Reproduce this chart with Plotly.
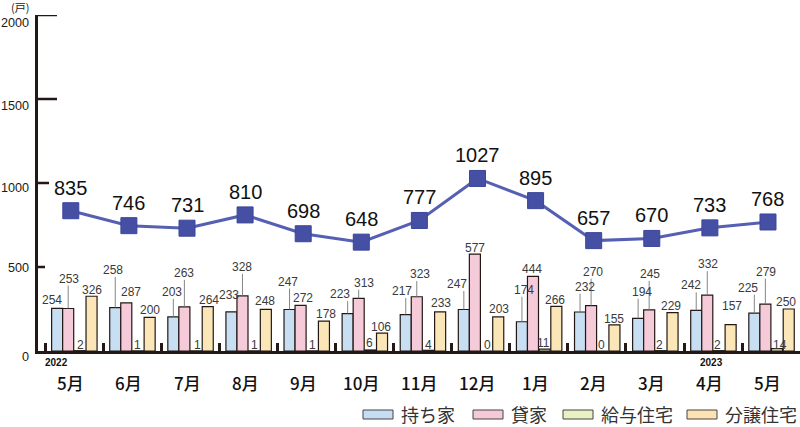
import plotly.graph_objects as go

# ---------------- data ----------------
months = ["5月", "6月", "7月", "8月", "9月", "10月", "11月", "12月", "1月", "2月", "3月", "4月", "5月"]
owned = [254, 258, 203, 233, 247, 223, 217, 247, 174, 232, 194, 242, 225]      # 持ち家
rented = [253, 287, 263, 328, 272, 313, 323, 577, 444, 270, 245, 332, 279]     # 貸家
issued = [2, 1, 1, 1, 1, 6, 4, 0, 11, 0, 2, 2, 14]                             # 給与住宅
sold = [326, 200, 264, 248, 178, 106, 233, 203, 266, 155, 229, 157, 250]       # 分譲住宅
totals = [835, 746, 731, 810, 698, 648, 777, 1027, 895, 657, 670, 733, 768]
series_names = ["持ち家", "貸家", "給与住宅", "分譲住宅"]
year_labels = ["2022", "2023"]
y_ticks = [0, 500, 1000, 1500, 2000]

# ---------------- style ----------------
W, H = 800, 427
ML, MR, MT, MB = 38, 0, 15, 76
XMIN, XMAX = -0.5645, 12.551
DARK = "#231815"
bar_fill = ["#c8def3", "#f6cbd9", "#eef3c8", "#fbe6b8"]
legend_fill = ["#c5dcf2", "#f5c9d7", "#e8f1c4", "#fde2b3"]
bar_left = [-0.33, -0.14, 0.06, 0.262]
bar_w = 0.19
NUM = "Liberation Sans"
JP = "Noto Sans CJK JP"
ytick_label_shift = [-6, -1, -5, -6.5, -7.5]
ytick_len = [7, 11, 19, 19]

# label placement per series: (dx px, dy px up, leader line?)
label_pos = [
    [(-5, 8, 0), (-2, 37.7, 1), (-1, 25, 1), (-2, 17, 0), (-2, 28, 1), (-7.7, 19.5, 1), (-4, 23.5, 1),
     (-6.4, 25.5, 1), (2, 32, 1), (5, 25.3, 1), (4, 26.7, 1), (-5, 25, 1), (-6, 25.5, 1)],
    [(1, 30, 1), (5, 11, 0), (0, 34, 1), (0, 29, 1), (2, 7.5, 0), (5, 15.7, 1), (3, 22.7, 1),
     (0, 6, 0), (-1, 7.5, 0), (2, 34, 1), (1, 36, 1), (1, 31, 1), (0.5, 32.5, 1)],
    [(1, 6, 0), (0, 6, 0), (1, 6, 0), (0, 6, 0), (0, 6, 0), (-1, 7, 0), (0, 5.5, 0),
     (0.5, 6, 0), (-1.5, 6, 0), (-1, 6, 0), (-1, 6, 0), (-1, 6, 0), (3, 3.6, 0)],
    [(0, 6.5, 0), (0.4, 7.4, 0), (0.8, 6.6, 0), (-0.8, 8.3, 0), (1.6, 7.1, 0), (-1, 6.5, 0), (0.9, 9.2, 0),
     (0.8, 7.9, 0), (-1.3, 6.3, 0), (-0.4, 6, 0), (-1.5, 6.5, 0), (1.4, 18.6, 0), (-3, 7.3, 0)],
]

pw, ph = W - ML - MR, H - MT - MB


def px_x(px):
    return (px - ML) / pw


def px_y(py):
    return (H - MB - py) / ph


fig = go.Figure()
xs = list(range(len(months)))
all_series = [owned, rented, issued, sold]

for k, vals in enumerate(all_series):
    fig.add_trace(go.Bar(
        x=xs, y=vals, offset=bar_left[k], width=bar_w, name=series_names[k],
        marker=dict(color=bar_fill[k], line=dict(color=DARK, width=1.2)),
        showlegend=False, hoverinfo="y",
    ))

fig.add_trace(go.Scatter(
    x=xs, y=totals, mode="lines+markers", showlegend=False,
    line=dict(color="#5560b2", width=3),
    marker=dict(symbol="square", size=16, color="#4550a4", line=dict(color="#3c4699", width=1)),
))

annotations = []
shapes = []

# bar value labels + leader lines
for k, vals in enumerate(all_series):
    cx_off = bar_left[k] + bar_w / 2
    for i, v in enumerate(vals):
        dx, dy, lead = label_pos[k][i]
        annotations.append(dict(
            x=i + cx_off, y=v, xref="x", yref="y", text=str(v), showarrow=False,
            xshift=dx, yshift=dy, xanchor="center", yanchor="middle",
            font=dict(family=NUM, size=12, color="#3a3a3a"),
        ))
        if lead:
            shapes.append(dict(
                type="line", xref="x", yref="y", x0=i + cx_off, x1=i + cx_off,
                ysizemode="pixel", yanchor=v, y0=0, y1=dy - 7,
                line=dict(color="#777777", width=0.9), layer="above",
            ))

# total labels
for i, t in enumerate(totals):
    annotations.append(dict(
        x=i, y=t, xref="x", yref="y", text=str(t), showarrow=False, yshift=23,
        xanchor="center", yanchor="middle", font=dict(family=NUM, size=20, color="#111111"),
    ))

# month labels
for i, m in enumerate(months):
    annotations.append(dict(
        x=i, y=0, xref="x", yref="y", text=m, showarrow=False, yshift=-31,
        xanchor="center", yanchor="middle",
        font=dict(family=JP, size=17, color="#111111", weight=500),
    ))

# year labels
for xv, yl in zip([-0.246, 11.036], year_labels):
    annotations.append(dict(
        x=xv, y=0, xref="x", yref="y", text=yl, showarrow=False, yshift=-11.5,
        xanchor="center", yanchor="middle",
        font=dict(family=NUM, size=10, color="#111111", weight="bold"),
    ))

# y tick labels
for v, sh in zip(y_ticks, ytick_label_shift):
    annotations.append(dict(
        x=0, y=v, xref="paper", yref="y", text=str(v), showarrow=False,
        xshift=-8.5, yshift=sh, xanchor="right", yanchor="middle", borderpad=0,
        font=dict(family=NUM, size=12.6, color=DARK),
    ))

# unit label
annotations.append(dict(
    x=px_x(20), y=px_y(-2), xref="paper", yref="paper", text="(戸)", showarrow=False,
    xanchor="center", yanchor="top", borderpad=0, font=dict(family=JP, size=11, color=DARK),
))

# y-axis tick marks
for v, ln in zip(y_ticks[1:], ytick_len):
    shapes.append(dict(
        type="line", xref="x", yref="y", xsizemode="pixel", xanchor=XMIN, x0=0, x1=ln,
        y0=v, y1=v, line=dict(color=DARK, width=2.5), layer="above",
    ))

# legend
legend_x = [363, 473, 563, 687]
for k, name in enumerate(series_names):
    x0 = legend_x[k]
    shapes.append(dict(
        type="rect", xref="paper", yref="paper",
        x0=px_x(x0), x1=px_x(x0 + 30), y0=px_y(419), y1=px_y(410),
        fillcolor=legend_fill[k], line=dict(color="#444444", width=1),
    ))
    annotations.append(dict(
        x=px_x(x0 + 36), y=px_y(414), xref="paper", yref="paper", text=name, showarrow=False,
        xanchor="left", yanchor="middle", font=dict(family=JP, size=18, color="#333333"),
    ))

fig.update_layout(
    width=W, height=H, margin=dict(l=ML, r=MR, t=MT, b=MB, pad=0),
    paper_bgcolor="white", plot_bgcolor="white", barmode="overlay",
    annotations=annotations, shapes=shapes,
    xaxis=dict(
        range=[XMIN, XMAX], showgrid=False, zeroline=False, showline=True,
        linecolor=DARK, linewidth=2.5, showticklabels=False,
        tickmode="array", tickvals=[i - 0.444 for i in xs], ticks="inside",
        ticklen=8, tickwidth=2.5, tickcolor=DARK,
    ),
    yaxis=dict(
        range=[0, 2000], showgrid=False, zeroline=False, showline=True,
        linecolor=DARK, linewidth=2.5, showticklabels=False, ticks="",
    ),
)

fig.write_html(
    "out.html",
    config={"displayModeBar": False},
    post_script="document.body.style.margin='0';document.body.style.overflow='hidden';",
)
